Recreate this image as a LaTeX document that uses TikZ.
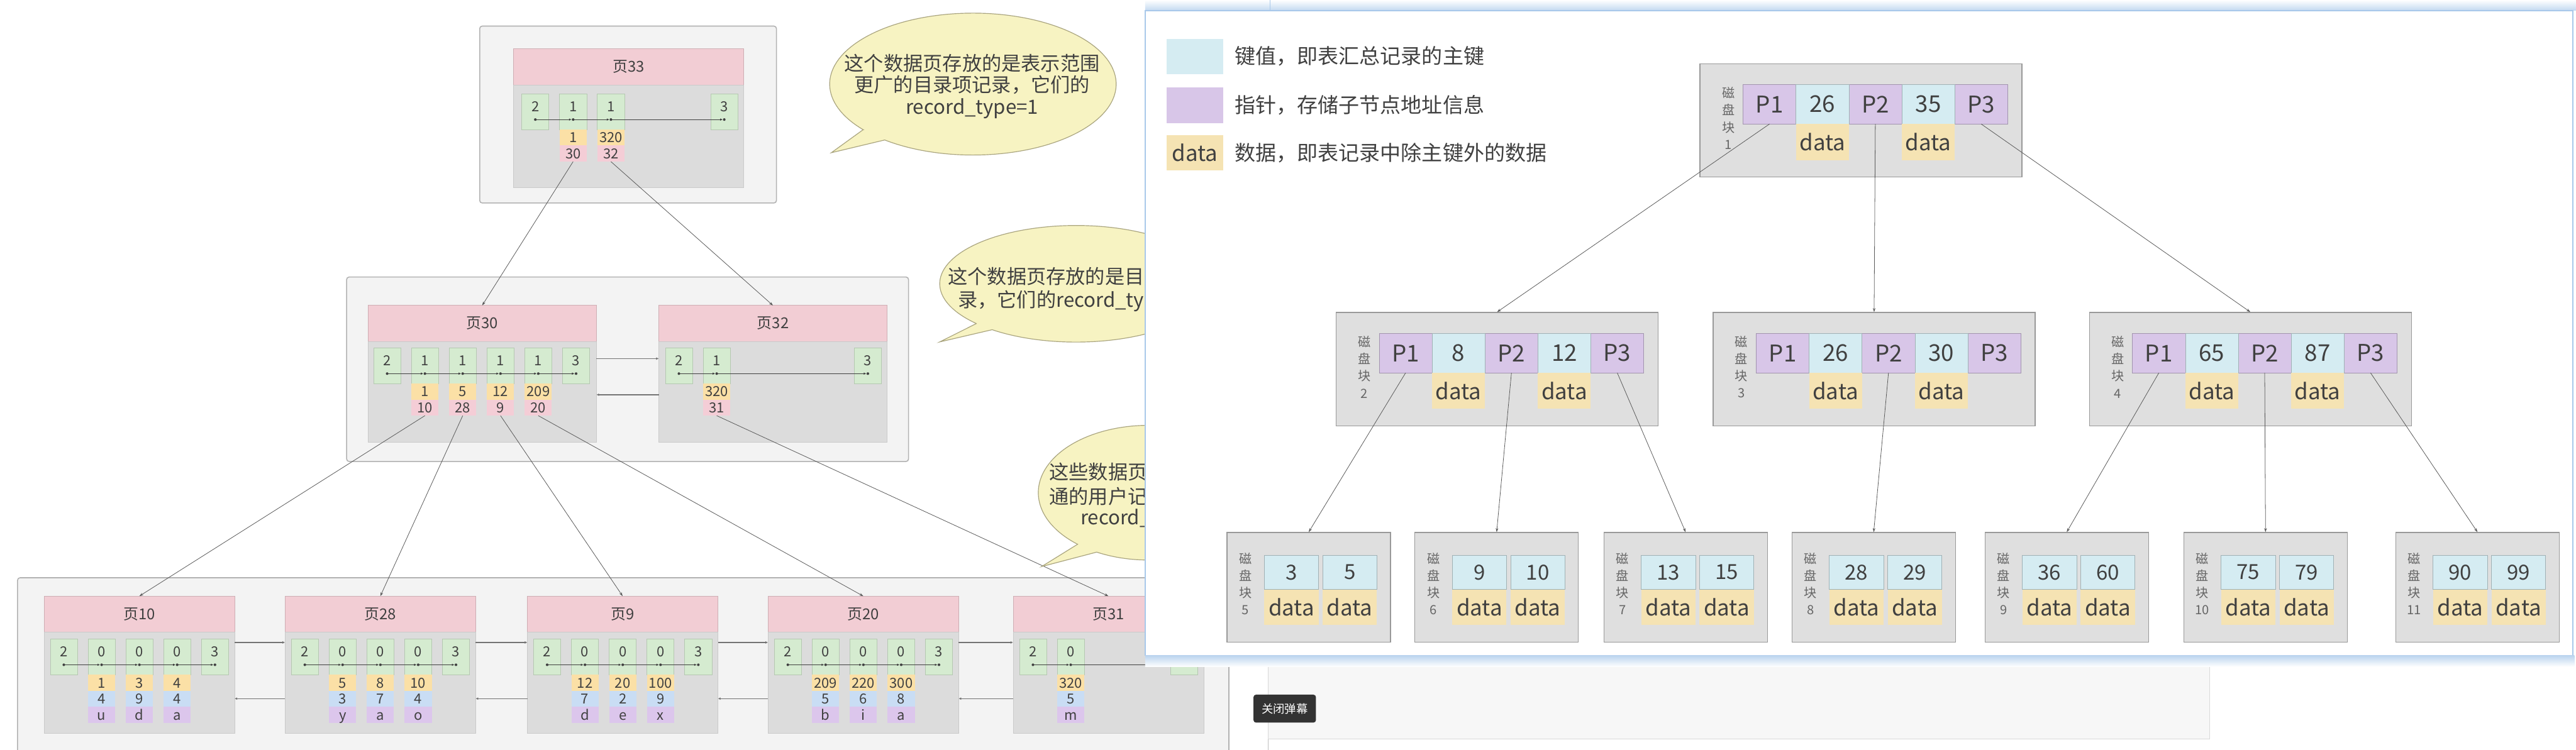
\documentclass[tikz,border=0pt]{standalone}
\usepackage{fontspec}
\setmainfont{Noto Sans CJK SC}
\usetikzlibrary{arrows.meta,positioning,calc}
\definecolor{pagepink}{HTML}{F2CDD4}
\definecolor{pagegray}{HTML}{DCDCDC}
\definecolor{cellgreen}{HTML}{D5EBD0}
\definecolor{cellorange}{HTML}{FBE0A6}
\definecolor{cellpink}{HTML}{F4CDD6}
\definecolor{cellblue}{HTML}{C9DDF4}
\definecolor{cellviolet}{HTML}{DCC6EC}
\definecolor{boxgray}{HTML}{F3F3F3}
\definecolor{bubblefill}{HTML}{F7F3C2}
\definecolor{bubbleline}{HTML}{A9A47E}
\definecolor{keycyan}{HTML}{D5ECF2}
\definecolor{ptrviolet}{HTML}{D8C6E8}
\definecolor{datayellow}{HTML}{F5E3B3}
\definecolor{blockgray}{HTML}{DFDFDF}
\definecolor{inkgray}{HTML}{404040}
\definecolor{panelblue}{HTML}{A8C8EA}

\newcommand{\mkpage}[6]{%
  \node[phead,minimum width=#4mm,anchor=north west] (#1) at (#2,#3) {#6};
  \node[pbody,minimum width=#4mm,minimum height=#5mm,below=0pt of #1] (#1body) {};}
\newcommand{\gcells}[4]{%
  \foreach \ix/\val in {#4}{%
    \node[gcell] (#1c\ix) at ({#2+23*\ix},#3) {\val};
    \coordinate (#1d\ix) at ($(#1c\ix.south)+(0,-6)$);
    \fill[inkgray] (#1d\ix) circle (0.8mm);}}
\newcommand{\chain}[2]{\foreach \ia/\ib in {#2} \draw[recarrow] (#1d\ia) -- (#1d\ib);}
\newcommand{\idxrecs}[2]{%
  \foreach \ix/\ka/\kb in {#2}{%
    \node[ocell,below=0pt of #1c\ix] (#1k\ix) {\ka};
    \node[pcell,below=0pt of #1k\ix] (#1p\ix) {\kb};}}
\newcommand{\leafrecs}[2]{%
  \foreach \ix/\ka/\kb/\kc in {#2}{%
    \node[ocell,below=0pt of #1c\ix] (#1k\ix) {\ka};
    \node[bcell,below=0pt of #1k\ix] (#1b\ix) {\kb};
    \node[vcell,below=0pt of #1b\ix] (#1v\ix) {\kc};}}
\newcommand{\mkblock}[6]{%
  \node[blk] (#1) at (#2,#3) {};
  \node[blklab] (#1lab) at ({#2+17.5},{#3+33.5}) {磁\\盘\\块\\#4};
  \foreach \ix/\val in {0/P1,2/P2,4/P3}
    \node[ptr] (#1c\ix) at ({#2+26.5+32.2*\ix},{#3+13}) {\val};
  \foreach \ix/\val in {1/#5,3/#6}{%
    \node[key] (#1c\ix) at ({#2+26.5+32.2*\ix},{#3+13}) {\val};
    \node[dat,below=0pt of #1c\ix] (#1d\ix) {data};}}
\newcommand{\mkleaf}[6]{%
  \node[lblk] (#1) at (#2,#3) {};
  \node[blklab] (#1lab) at ({#2+11.5},{#3+31.5}) {磁\\盘\\块\\#4};
  \foreach \ix/\val in {0/#5,1/#6}{%
    \node[lkey] (#1c\ix) at ({#2+23+35.5*\ix},{#3+14}) {\val};
    \node[ldat,below=0pt of #1c\ix] (#1d\ix) {data};}}

\begin{document}
\begin{tikzpicture}[x=1mm,y=-1mm,
  frame/.style={draw=black!30,line width=0.6mm,fill=boxgray,rounded corners=1.5mm,anchor=north west,outer sep=0pt},
  phead/.style={fill=pagepink,draw=pagepink!85!black,line width=0.3mm,minimum height=22mm,inner sep=0pt,outer sep=0pt,font=\fontsize{26}{30}\selectfont,text=inkgray},
  pbody/.style={fill=pagegray,draw=pagegray!92!black,line width=0.3mm,inner sep=0pt,outer sep=0pt},
  gcell/.style={fill=cellgreen,draw=cellgreen!85!black,line width=0.25mm,minimum width=16.5mm,inner sep=0pt,outer sep=0pt,text height=10.8mm,text depth=11mm,anchor=north west,font=\fontsize{24}{28}\selectfont,text=inkgray},
  rcell/.style={minimum width=16.5mm,minimum height=9.8mm,inner sep=0pt,outer sep=0pt,text height=6.2mm,text depth=0pt,font=\fontsize{24}{28}\selectfont,text=inkgray},
  ocell/.style={rcell,fill=cellorange},
  pcell/.style={rcell,fill=cellpink},
  bcell/.style={rcell,fill=cellblue},
  vcell/.style={rcell,fill=cellviolet},
  recarrow/.style={draw=inkgray,line width=0.45mm,shorten >=0.9mm,-{Latex[length=1.6mm,width=1.4mm]}},
  link/.style={draw=black!65,line width=0.3mm,-{Stealth[length=2.4mm,width=1.6mm]}},
  side/.style={draw=black!55,line width=0.55mm,-{Latex[length=1.6mm,width=1.6mm]}},
  bubble/.style={fill=bubblefill,draw=bubbleline,line width=0.45mm},
  btext/.style={font=\fontsize{34}{38}\selectfont,text=inkgray,inner sep=0pt},
  blk/.style={fill=blockgray,draw=black!40,line width=0.5mm,minimum width=196mm,minimum height=69mm,anchor=north west,inner sep=0pt},
  lblk/.style={blk,minimum width=99.5mm,minimum height=66.8mm},
  blklab/.style={align=center,inner sep=0pt,text=black!60,font=\fontsize{22}{29.6}\selectfont},
  ptr/.style={fill=ptrviolet,draw=ptrviolet!75!black,line width=0.25mm,minimum width=32.2mm,minimum height=24mm,inner sep=0pt,outer sep=0pt,anchor=north west,text=inkgray,font=\fontsize{40}{44}\selectfont},
  key/.style={ptr,fill=keycyan,draw=keycyan!75!black},
  dat/.style={fill=datayellow,minimum width=32.2mm,minimum height=22mm,inner sep=0pt,outer sep=0pt,text=inkgray,font=\fontsize{38}{42}\selectfont},
  lkey/.style={key,minimum width=33mm,minimum height=21mm,font=\fontsize{36}{40}\selectfont},
  ldat/.style={dat,minimum width=33mm,minimum height=21.6mm},
  legbox/.style={minimum width=34.6mm,minimum height=21.5mm,inner sep=0pt,text=inkgray,font=\fontsize{38}{42}\selectfont},
  legtext/.style={inner sep=0pt,text=inkgray,font=\fontsize{36}{40}\selectfont},
  btn/.style={fill=black!80,rounded corners=1.5mm,minimum width=38mm,minimum height=17mm,inner sep=0pt,text=white,font=\fontsize{20}{22}\selectfont}]
\clip (0,0) rectangle (1568,456.6);
\fill[white] (0,0) rectangle (1568,456.6);

\node[frame,minimum width=180.6mm,minimum height=107.7mm] (box33) at (292,15.9) {};
\node[frame,minimum width=342mm,minimum height=112.3mm] (box30) at (211,168.7) {};
\node[frame,minimum width=737.3mm,minimum height=130mm] (boxleaf) at (10.7,351.8) {};

\mkpage{p33}{312.6}{29.7}{140}{62.7}{页33}
\gcells{p33}{317.6}{57}{0/2,1/1,2/1,5/3}
\idxrecs{p33}{1/1/30,2/320/32}
\chain{p33}{0/1,1/2,2/5}

\mkpage{p30}{224}{186}{139}{61.3}{页30}
\gcells{p30}{227.4}{211.7}{0/2,1/1,2/1,3/1,4/1,5/3}
\idxrecs{p30}{1/1/10,2/5/28,3/12/9,4/209/20}
\chain{p30}{0/1,1/2,2/3,3/4,4/5}
\mkpage{p32}{401}{186}{139}{61.3}{页32}
\gcells{p32}{405}{211.7}{0/2,1/1,5/3}
\idxrecs{p32}{1/320/31}
\chain{p32}{0/1,1/5}
\draw[side] ([yshift=20.3mm]p30body.east) -- ([yshift=20.3mm]p32body.west);
\draw[side] ([yshift=-1.7mm]p32body.west) -- ([yshift=-1.7mm]p30body.east);

\mkpage{p10}{26.8}{363}{116}{61.4}{页10}
\gcells{p10}{30.6}{389}{0/2,1/0,2/0,3/0,4/3}
\leafrecs{p10}{1/1/4/u,2/3/9/d,3/4/4/a}
\chain{p10}{0/1,1/2,2/3,3/4}
\mkpage{p28}{173.5}{363}{116}{61.4}{页28}
\gcells{p28}{177.3}{389}{0/2,1/0,2/0,3/0,4/3}
\leafrecs{p28}{1/5/3/y,2/8/7/a,3/10/4/o}
\chain{p28}{0/1,1/2,2/3,3/4}
\mkpage{p9}{321}{363}{116}{61.4}{页9}
\gcells{p9}{324.8}{389}{0/2,1/0,2/0,3/0,4/3}
\leafrecs{p9}{1/12/7/d,2/20/2/e,3/100/9/x}
\chain{p9}{0/1,1/2,2/3,3/4}
\mkpage{p20}{467.5}{363}{116}{61.4}{页20}
\gcells{p20}{471.3}{389}{0/2,1/0,2/0,3/0,4/3}
\leafrecs{p20}{1/209/5/b,2/220/6/i,3/300/8/a}
\chain{p20}{0/1,1/2,2/3,3/4}
\mkpage{p31}{616.7}{363}{116}{61.4}{页31}
\gcells{p31}{620.5}{389}{0/2,1/0,4/3}
\leafrecs{p31}{1/320/5/m}
\chain{p31}{0/1,1/4}
\foreach \pa/\pb in {p10/p28,p28/p9,p9/p20,p20/p31}{
  \draw[side] ([yshift=24.5mm]\pa body.east) -- ([yshift=24.5mm]\pb body.west);
  \draw[side] ([yshift=-9.7mm]\pb body.west) -- ([yshift=-9.7mm]\pa body.east);}

\draw[link] (p33p1.south) -- (p30.north);
\draw[link] (p33p2.south) -- (p32.north);
\draw[link] (p30p1.south) -- (p10.north);
\draw[link] (p30p2.south) -- (p28.north);
\draw[link] (p30p3.south) -- (p9.north);
\draw[link] (p30p4.south) -- (p20.north);
\draw[link] (p32p1.south) -- (p31.north);

\coordinate (bub1c) at (592.2,51.2);
\coordinate (bub1tip) at (506,93);
\draw[bubble] ($(bub1c)+(140:87.2 and 43.2)$) -- (bub1tip) -- ($(bub1c)+(128:87.2 and 43.2)$)
  arc[start angle=128,end angle=-220,x radius=87.2,y radius=43.2] -- cycle;
\node[btext,align=center] (bub1t) at (591.7,52.6) {这个数据页存放的是表示范围\\更广的目录项记录，它们的\\record\_type=1};
\coordinate (bub2c) at (655,172.8);
\coordinate (bub2tip) at (572,208.2);
\draw[bubble] ($(bub2c)+(137:83 and 35.5)$) -- (bub2tip) -- ($(bub2c)+(128:83 and 35.5)$)
  arc[start angle=128,end angle=-223,x radius=83,y radius=35.5] -- cycle;
\node[btext,anchor=west] (bub2a) at (577,168.3) {这个数据页存放的是目};
\node[btext,anchor=west] (bub2b) at (583,183.4) {录，它们的record\_ty};
\coordinate (bub3c) at (699,300);
\coordinate (bub3tip) at (634,345);
\draw[bubble] ($(bub3c)+(130:67 and 41)$) -- (bub3tip) -- ($(bub3c)+(118:67 and 41)$)
  arc[start angle=118,end angle=-230,x radius=67,y radius=41] -- cycle;
\node[btext,anchor=west] (bub3a) at (638.6,287.2) {这些数据页};
\node[btext,anchor=west] (bub3b) at (638.6,302.3) {通的用户记};
\node[btext,anchor=west] (bub3c) at (657.6,315.4) {record\_};

\fill[white] (697,0) rectangle (1567,399);
\shade[top color=white,bottom color=panelblue!70] (697,0) rectangle (1568,6.5);
\draw[panelblue] (773,0) -- (773,6.5);
\draw[panelblue,line width=0.6mm] (697,6.5) rectangle (1566,399);

\node[legbox,fill=keycyan] (legkey) at (727.3,34.3) {};
\node[legbox,fill=ptrviolet] (legptr) at (727.3,64.1) {};
\node[legbox,fill=datayellow] (legdat) at (727.3,93) {data};
\node[legtext,right=6.9mm of legkey] (legkeyt) {键值，即表汇总记录的主键};
\node[legtext,right=6.9mm of legptr] (legptrt) {指针，存储子节点地址信息};
\node[legtext,right=6.9mm of legdat] (legdatt) {数据，即表记录中除主键外的数据};

\mkblock{b1}{1034.5}{38.5}{1}{26}{35}
\mkblock{b2}{813}{190}{2}{8}{12}
\mkblock{b3}{1042.5}{190}{3}{26}{30}
\mkblock{b4}{1271.5}{190}{4}{65}{87}
\mkleaf{l5}{746.6}{324}{5}{3}{5}
\mkleaf{l6}{861}{324}{6}{9}{10}
\mkleaf{l7}{976}{324}{7}{13}{15}
\mkleaf{l8}{1090.5}{324}{8}{28}{29}
\mkleaf{l9}{1208}{324}{9}{36}{60}
\mkleaf{l10}{1329}{324}{10}{75}{79}
\mkleaf{l11}{1458}{324}{11}{90}{99}
\foreach \src/\dst in {b1c0/b2,b1c2/b3,b1c4/b4,b2c0/l5,b2c2/l6,b2c4/l7,b3c2/l8,b4c0/l9,b4c2/l10,b4c4/l11}
  \draw[link] (\src.south) -- (\dst.north);

\draw[black!25] (772,399) -- (772,456.6);
\filldraw[fill=black!3,draw=black!15] (772,399) rectangle (1345,450);
\shade[top color=panelblue!80,bottom color=white] (697,399) rectangle (1567,406);
\node[btn] (danmu) at (782,431.5) {关闭弹幕};
\end{tikzpicture}
\end{document}
